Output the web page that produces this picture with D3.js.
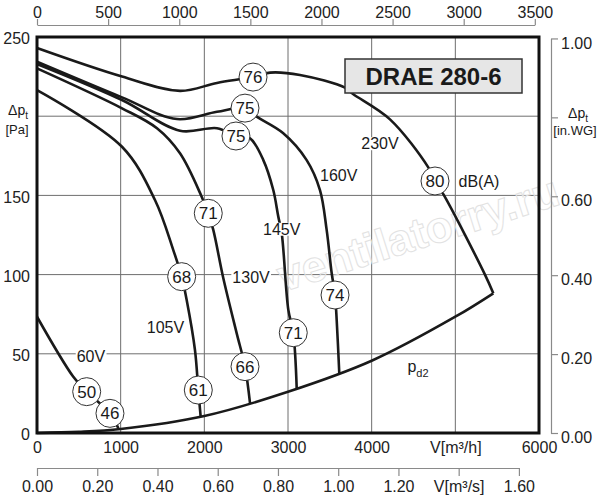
<!DOCTYPE html>
<html lang="en">
<head>
<meta charset="UTF-8">
<title>DRAE 280-6</title>
<script src="https://d3js.org/d3.v7.min.js"></script>
<style>
    body {
        margin: 0;
        background: #ffffff;
        font-family: 'Liberation Sans', Arial, sans-serif;
    }
    svg text {
        fill: #1a1a1a;
    }
    .axis path,
    .axis line {
        stroke: #8a8a8a;
        stroke-width: 1.2;
    }
    .axis text {
        font-size: 16px;
        fill: #222;
    }
    .grid line {
        stroke: #6e6e6e;
        stroke-width: 1;
    }
    .curve {
        fill: none;
        stroke: #1a1a1a;
        stroke-width: 2.6;
    }
</style>
</head>
<body>
<svg width="600" height="500"></svg>
<script>
    // characteristic curves, [V m3/h, dp Pa]
    const curve230V = [[0, 243], [1016, 225], [1709, 216], [2151, 221], [2582, 224.7], [2785, 227.5],
        [3143, 226], [3681, 218], [3777, 214], [4219, 198], [4673, 168], [4757, 159], [4865, 150],
        [5354, 100], [5454, 88.2]];
    const curve160V = [[0, 234.4], [1016, 211.9], [1673, 198.2], [2151, 202.8], [2486, 205.1], [2626, 199.7],
        [2940, 189.4], [3223, 172.3], [3382, 153.4], [3462, 128.2], [3522, 101], [3562, 87.1],
        [3582, 71.3], [3613, 37.7]];
    const curve145V = [[0, 233], [1016, 210.2], [1709, 190.8], [2151, 192.4], [2378, 187.5], [2546, 186],
        [2705, 172.3], [2824, 153.4], [2884, 136.6], [2925, 126.1], [3004, 77.7], [3063, 63.3], [3104, 28.2]];
    const curve130V = [[0, 230.2], [1016, 205], [1434, 192.4], [1709, 176.6], [1968, 149.2], [2047, 138.7],
        [2107, 128.2], [2227, 97.7], [2387, 62.9], [2486, 41.9], [2546, 18.8]];
    const curve105V = [[0, 216.5], [1016, 180.7], [1410, 147.1], [1629, 115.5], [1729, 98.7], [1789, 84],
        [1888, 52.4], [1928, 27.1], [1956, 10.3]];
    const curve60V = [[0, 73.4], [434, 35.5], [594, 26.1], [872, 12.4], [972, 3]];
    // dynamic pressure pd2
    const curvePd2 = [[0, 0], [500, 0.7], [1000, 2.5], [2000, 10.7], [3000, 26], [4000, 45.6], [5000, 73.4], [5454, 88.2]];

    // noise level markers dB(A)
    const noiseQ = [2582, 2486, 2378, 4757, 2047, 3562, 1729, 3063, 2486, 1928, 594, 872];
    const noiseP = [224.7, 205.1, 187.5, 159.1, 138.7, 87.1, 98.7, 63.3, 41.9, 27.1, 26.1, 12.4];
    const noiseDb = [76, 75, 75, 80, 71, 74, 68, 71, 66, 61, 50, 46];

    // curve labels
    const labelText = ["230V", "160V", "145V", "130V", "105V", "60V", "dB(A)"];
    const labelQ = [4099, 3606, 2925, 2558, 1536, 645, 5283];
    const labelP = [182.8, 162.9, 128.8, 98.2, 66.6, 48.6, 158.8];

    // axis ticks
    const ticksM3h = [0, 1000, 2000, 3000, 4000, 5000, 6000];
    const ticksPa = [0, 50, 100, 150, 200, 250];
    const ticksCfm = [0, 500, 1000, 1500, 2000, 2500, 3000, 3500];
    const ticksM3s = [0, 0.2, 0.4, 0.6, 0.8, 1.0, 1.2, 1.4, 1.6];
    const ticksInWg = [0, 0.2, 0.4, 0.6, 0.8, 1.0];

    const svg = d3.select("svg");

    const x = d3.scaleLinear().domain([0, 6000]).range([37, 539]);
    const y = d3.scaleLinear().domain([0, 250]).range([433, 37]);
    const xCfm = d3.scaleLinear().domain([0, 3500]).range([37, x(3500 * 1.7)]);
    const xM3s = d3.scaleLinear().domain([0, 1.6]).range([37, x(1.6 * 3600)]);
    const yInWg = d3.scaleLinear().domain([0, 1]).range([433, y(249.09)]);

    // grid
    const grid = svg.append("g").attr("class", "grid");
    grid.selectAll(".gv").data(ticksM3h.slice(1, -1)).join("line")
        .attr("x1", d => x(d)).attr("x2", d => x(d))
        .attr("y1", y(0)).attr("y2", y(250));
    grid.selectAll(".gh").data(ticksPa.slice(1, -1)).join("line")
        .attr("class", "gh")
        .attr("x1", x(0)).attr("x2", x(6000))
        .attr("y1", d => y(d)).attr("y2", d => y(d));

    // watermark
    svg.append("text")
        .attr("transform", "translate(283,292) rotate(-17.5)")
        .style("font-size", "44px")
        .style("font-weight", "bold")
        .style("fill", "rgba(255,255,255,0.4)")
        .style("stroke", "#e2e2e2")
        .style("stroke-width", 1)
        .text("ventilatorry.ru");

    // curves
    const line = d3.line()
        .x(d => x(d[0]))
        .y(d => y(d[1]))
        .curve(d3.curveCatmullRom.alpha(0.5));

    [curve230V, curve160V, curve145V, curve130V, curve105V, curve60V, curvePd2].forEach(c => {
        svg.append("path").attr("class", "curve").attr("d", line(c));
    });

    // frame
    svg.append("rect")
        .attr("x", x(0)).attr("y", y(250))
        .attr("width", x(6000) - x(0)).attr("height", y(0) - y(250))
        .attr("fill", "none").attr("stroke", "#111").attr("stroke-width", 3);

    // title box
    svg.append("rect")
        .attr("x", 345).attr("y", 59).attr("width", 177).attr("height", 34)
        .attr("fill", "#e6e6e6").attr("stroke", "#333").attr("stroke-width", 1.5);
    svg.append("text")
        .attr("x", 433.5).attr("y", 85)
        .attr("text-anchor", "middle")
        .style("font-size", "24px").style("font-weight", "bold")
        .text("DRAE 280-6");

    // curve labels with white backing
    labelText.forEach((t, i) => {
        const g = svg.append("g");
        const txt = g.append("text")
            .attr("x", x(labelQ[i])).attr("y", y(labelP[i]))
            .attr("dy", "0.36em")
            .attr("text-anchor", "middle")
            .style("font-size", "16px")
            .text(t);
        if (t !== "dB(A)") {
            const b = txt.node().getBBox();
            g.insert("rect", "text")
                .attr("x", b.x - 1).attr("y", b.y + 2)
                .attr("width", b.width + 2).attr("height", b.height - 4)
                .attr("fill", "white");
        }
    });

    // pd2 label
    const pd = svg.append("text")
        .attr("x", x(4554)).attr("y", y(41) + 4)
        .attr("text-anchor", "middle")
        .style("font-size", "16px");
    pd.append("tspan").text("p");
    pd.append("tspan").attr("dy", 5).style("font-size", "11px").text("d2");

    // noise markers
    const marks = svg.selectAll(".mark").data(noiseDb).join("g")
        .attr("class", "mark")
        .attr("transform", (d, i) => `translate(${x(noiseQ[i])},${y(noiseP[i])})`);
    marks.append("circle").attr("r", 14)
        .attr("fill", "white").attr("stroke", "#333").attr("stroke-width", 1);
    marks.append("text")
        .attr("text-anchor", "middle").attr("dy", "0.36em")
        .style("font-size", "17px")
        .text(d => d);

    // top axis CFM
    svg.append("g").attr("class", "axis")
        .attr("transform", "translate(0,25)")
        .call(d3.axisTop(xCfm).tickValues(ticksCfm).tickSize(6).tickSizeOuter(0).tickPadding(1)
            .tickFormat(d3.format("d")));

    // bottom axis m3/h (labels only)
    const bx = svg.append("g").attr("class", "axis")
        .attr("transform", "translate(0,433)")
        .call(d3.axisBottom(x).tickValues(ticksM3h).tickSize(0).tickPadding(9)
            .tickFormat(d => d === 5000 ? "V[m³/h]" : d));
    bx.select(".domain").remove();

    // bottom axis m3/s
    svg.append("g").attr("class", "axis")
        .attr("transform", "translate(0,468)")
        .call(d3.axisBottom(xM3s).tickValues(ticksM3s).tickSize(8).tickSizeOuter(0).tickPadding(5)
            .tickFormat(d => Math.abs(d - 1.4) < 1e-6 ? "V[m³/s]" : d.toFixed(2)));

    // left axis Pa (labels only)
    const ly = svg.append("g").attr("class", "axis")
        .attr("transform", "translate(37,0)")
        .call(d3.axisLeft(y).tickValues(ticksPa).tickSize(0).tickPadding(7)
            .tickFormat(d => d === 200 ? "" : d));
    ly.select(".domain").remove();
    ly.selectAll("text").attr("dy", "0.42em");

    const lp = svg.append("text").attr("x", 18).attr("y", 115)
        .attr("text-anchor", "middle").style("font-size", "14px");
    lp.append("tspan").text("Δp");
    lp.append("tspan").attr("dy", 4).style("font-size", "10px").text("t");
    svg.append("text").attr("x", 17).attr("y", 134)
        .attr("text-anchor", "middle").style("font-size", "13px").text("[Pa]");

    // right axis in.WG
    const ry = svg.append("g").attr("class", "axis")
        .attr("transform", "translate(551,0)")
        .call(d3.axisRight(yInWg).tickValues(ticksInWg).tickSize(7).tickSizeOuter(0).tickPadding(3)
            .tickFormat(d => Math.abs(d - 0.8) < 1e-6 ? "" : d.toFixed(2)));
    ry.selectAll("text").attr("dy", "0.6em");

    const rp = svg.append("text").attr("x", 578).attr("y", 118)
        .attr("text-anchor", "middle").style("font-size", "14px");
    rp.append("tspan").text("Δp");
    rp.append("tspan").attr("dy", 4).style("font-size", "10px").text("t");
    svg.append("text").attr("x", 575).attr("y", 135)
        .attr("text-anchor", "middle").style("font-size", "13px").text("[in.WG]");
</script>
</body>
</html>
